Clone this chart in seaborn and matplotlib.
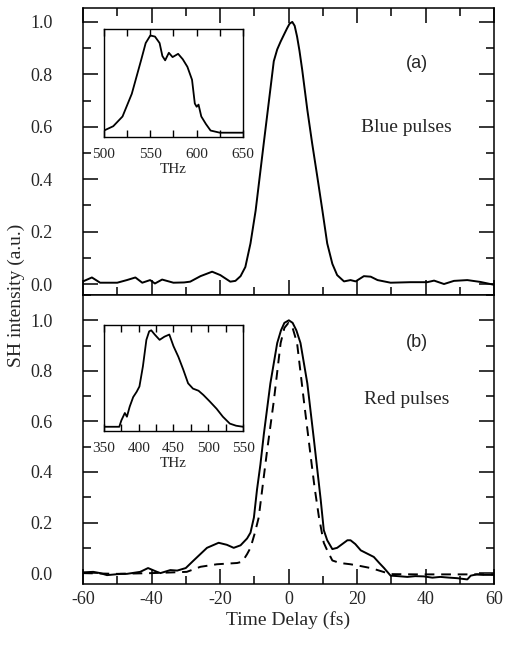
import numpy as np
import pandas as pd
import matplotlib
matplotlib.use("Agg")
import matplotlib.pyplot as plt
from matplotlib.ticker import MultipleLocator
import seaborn as sns

# Panel (a): blue pulses autocorrelation
t_blue = [-60, -57.4, -55, -52, -50, -47.2, -44.7, -42.7, -40.4, -39, -36.9, -33.6,
          -30.5, -28.7, -25.7, -22.3, -19.9, -17, -15.5, -14, -12.6, -11.1, -9.6,
          -8.4, -7.2, -5.7, -4.3, -3.3, -2.3, -1.3, -0.4, 0.3, 1.1, 1.8, 2.5, 3.2, 4.0,
          5.5, 6.9, 8.4, 9.9, 11.3, 12.8, 14.2, 16.2, 18.1, 19.6, 22, 24, 26, 29.8,
          35.6, 40.5, 42.5, 45.4, 48.3, 52.2, 56, 60]
sh_blue = [0.01, 0.025, 0.005, 0.005, 0.005, 0.015, 0.025, 0.005, 0.015, 0.002, 0.017,
           0.005, 0.006, 0.009, 0.03, 0.047, 0.034, 0.009, 0.012, 0.03, 0.065, 0.155,
           0.28, 0.41, 0.54, 0.70, 0.85, 0.895, 0.925, 0.952, 0.976, 0.993, 1.0, 0.985,
           0.944, 0.89, 0.817, 0.664, 0.537, 0.41, 0.28, 0.155, 0.077, 0.034, 0.01,
           0.015, 0.01, 0.03, 0.028, 0.015, 0.005, 0.007, 0.007, 0.013, 0.0, 0.012,
           0.015, 0.008, -0.003]

# Panel (b): red pulses, measured (solid) and calculated (dashed)
t_red = [-60, -57, -55, -53, -49, -47.2, -43.3, -41, -38.4, -37.4, -34.5, -32.5, -30,
         -27.7, -23.8, -20.4, -18, -16, -14, -12.1, -11.1, -10.1, -9.2, -8.2, -7.2,
         -5.3, -3.3, -2.2, -1.2, 0.1, 1.2, 2.3, 3.5, 5.5, 7.4, 8.4, 9.4, 10.3, 11.3,
         12.8, 14.2, 15.2, 17.2, 18.1, 19.5, 21.1, 23, 24.9, 26.5, 27.9, 29.8, 32,
         34.7, 37, 39.5, 42, 44.3, 47, 49.2, 52.2, 53.2, 55, 57, 60]
sh_red = [0.003, 0.005, 0.0, -0.008, -0.003, -0.003, 0.005, 0.02, 0.005, 0.0, 0.012,
          0.01, 0.02, 0.05, 0.10, 0.12, 0.112, 0.10, 0.11, 0.137, 0.16, 0.22, 0.33,
          0.43, 0.55, 0.75, 0.91, 0.96, 0.99, 1.0, 0.99, 0.96, 0.91, 0.75, 0.53, 0.41,
          0.29, 0.17, 0.13, 0.095, 0.10, 0.11, 0.13, 0.13, 0.115, 0.09, 0.077, 0.064,
          0.04, 0.02, -0.01, -0.012, -0.015, -0.012, -0.013, -0.018, -0.015, -0.018,
          -0.02, -0.025, -0.01, -0.005, -0.007, -0.007]
t_calc = [-60, -50, -40, -33.5, -29.7, -25.7, -20.9, -15, -13.5, -12.1, -11.1, -9.8,
          -8.7, -7.5, -6.2, -4.3, -2.3, -1.2, 0, 1.2, 2.5, 4.5, 6.4, 7.6, 8.9, 10.3,
          11.3, 12.8, 15, 18.1, 21, 24, 26, 29.8, 37.6, 45, 60]
sh_calc = [0.0, -0.003, 0.0, 0.003, 0.005, 0.025, 0.035, 0.04, 0.045, 0.075, 0.10, 0.16,
           0.22, 0.35, 0.49, 0.68, 0.91, 0.97, 0.99, 0.97, 0.91, 0.68, 0.47, 0.34, 0.22,
           0.12, 0.09, 0.05, 0.04, 0.035, 0.028, 0.02, 0.012, -0.004, -0.005, -0.005,
           -0.005]

# Inset spectra (THz)
f_blue = [500, 510, 520, 530, 540, 545, 550, 555, 560, 563, 566, 570, 574, 580, 585,
          590, 595, 598, 600, 602, 605, 610, 615, 625, 650]
s_blue = [0.06, 0.10, 0.19, 0.40, 0.71, 0.87, 0.94, 0.93, 0.87, 0.75, 0.71, 0.78, 0.74,
          0.77, 0.72, 0.65, 0.53, 0.31, 0.28, 0.30, 0.19, 0.12, 0.06, 0.04, 0.04]
f_red = [350, 372, 375, 380, 383, 387, 392, 397, 401, 406, 411, 415, 418, 423, 430,
         437, 444, 450, 457, 464, 471, 478, 486, 493, 502, 512, 521, 531, 540, 550]
s_red = [0.04, 0.04, 0.10, 0.17, 0.135, 0.23, 0.32, 0.37, 0.42, 0.61, 0.86, 0.94, 0.95,
         0.91, 0.86, 0.89, 0.91, 0.80, 0.70, 0.58, 0.45, 0.40, 0.38, 0.34, 0.28, 0.21,
         0.135, 0.07, 0.05, 0.04]

sns.set_theme(style="white")
plt.rcParams['font.family'] = ['Liberation Serif', 'DejaVu Serif']
plt.rcParams['axes.unicode_minus'] = False
plt.rcParams['axes.linewidth'] = 1.1
plt.rcParams['axes.edgecolor'] = 'black'

fig = plt.figure(figsize=(5.07, 6.46), dpi=100)
ax_top = fig.add_axes([0.1637, 0.5433, 0.8107, 0.4443])
ax_bot = fig.add_axes([0.1637, 0.0960, 0.8107, 0.4473])

lw = 1.4
sns.lineplot(x=t_blue, y=sh_blue, ax=ax_top, color='black', lw=lw, estimator=None, sort=False)
sns.lineplot(x=t_red, y=sh_red, ax=ax_bot, color='black', lw=lw, estimator=None, sort=False)
sns.lineplot(x=t_calc, y=sh_calc, ax=ax_bot, color='black', lw=lw, estimator=None, sort=False,
             linestyle=(0, (5, 3.5)))

for ax, ylim in [(ax_top, (-0.042, 1.053)), (ax_bot, (-0.043, 1.10))]:
    ax.set_xlim(-60, 60)
    ax.set_ylim(*ylim)
    ax.xaxis.set_major_locator(MultipleLocator(20))
    ax.xaxis.set_minor_locator(MultipleLocator(10))
    ax.yaxis.set_major_locator(MultipleLocator(0.2))
    ax.yaxis.set_minor_locator(MultipleLocator(0.1))
    ax.yaxis.set_major_formatter(matplotlib.ticker.FormatStrFormatter('%.1f'))
    ax.tick_params(which='both', direction='in', color='black', width=1.1,
                   left=True, right=True, bottom=True, labelsize=13)
    ax.tick_params(which='major', length=11)
    ax.tick_params(which='minor', length=5.5)
    ax.tick_params(axis='y', pad=22)
    ax.tick_params(axis='x', pad=5)
    ax.set_xlabel('')
    ax.set_ylabel('')

ax_top.tick_params(which='both', top=True, labelbottom=False)
ax_bot.tick_params(which='both', top=False)
ax_bot.set_xlabel('Time Delay (fs)', fontsize=14, labelpad=2)
fig.text(0.032, 0.5433, 'SH intensity (a.u.)', rotation=90, fontsize=14,
         ha='center', va='center')

ax_top.text(0.813, 0.808, '(a)', transform=ax_top.transAxes, fontsize=13,
            family='Liberation Sans', ha='center', va='center')
ax_top.text(0.787, 0.585, 'Blue pulses', transform=ax_top.transAxes, fontsize=14,
            ha='center', va='center')
ax_bot.text(0.813, 0.837, '(b)', transform=ax_bot.transAxes, fontsize=13,
            family='Liberation Sans', ha='center', va='center')
ax_bot.text(0.787, 0.637, 'Red pulses', transform=ax_bot.transAxes, fontsize=14,
            ha='center', va='center')

# insets
in_top = fig.add_axes([0.2051, 0.7879, 0.2742, 0.1672])
in_bot = fig.add_axes([0.2051, 0.3328, 0.2742, 0.1641])
sns.lineplot(x=f_blue, y=s_blue, ax=in_top, color='black', lw=1.3, estimator=None, sort=False)
sns.lineplot(x=f_red, y=s_red, ax=in_bot, color='black', lw=1.3, estimator=None, sort=False)
for ax, xlim in [(in_top, (500, 650)), (in_bot, (350, 550))]:
    ax.set_xlim(*xlim)
    ax.set_ylim(0, 1)
    ax.xaxis.set_major_locator(MultipleLocator(50))
    ax.xaxis.set_minor_locator(MultipleLocator(25))
    ax.set_yticks([])
    ax.tick_params(which='both', direction='in', color='black', width=1.0,
                   top=True, bottom=True, labelsize=11, pad=8)
    ax.tick_params(which='major', length=5)
    ax.tick_params(which='minor', length=5)
    ax.set_xlabel('THz', fontsize=11, labelpad=1)
    ax.set_ylabel('')
    for s in ax.spines.values():
        s.set_linewidth(1.0)

fig.savefig('out.png', dpi=100)
